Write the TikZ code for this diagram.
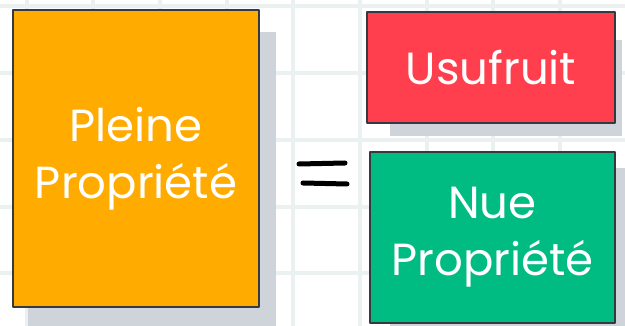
\documentclass[tikz,border=0pt]{standalone}
\usepackage{fontspec}
\setmainfont{Poppins}
\definecolor{gridc}{HTML}{EBF0F0}
\definecolor{shadowc}{HTML}{CED4DA}
\definecolor{edgec}{HTML}{343A40}
\definecolor{orangec}{HTML}{FFAB00}
\definecolor{redc}{HTML}{FF3F4D}
\definecolor{greenc}{HTML}{00BB82}
\tikzset{
  card/.style={draw=edgec, line width=2.2pt, line join=round, inner sep=0pt, text=white,
    font=\fontsize{45}{57}\selectfont, align=center},
  shade/.style={fill=shadowc, draw=none},
  eqstroke/.style={line width=5pt, line cap=round, draw=black}
}
\begin{document}
\begin{tikzpicture}[x=1pt,y=-1pt]
\useasboundingbox (0,0) rectangle (625,326);
\fill[white] (0,0) rectangle (625,326);
% grid
\foreach \gx in {26.7,93.3,160,226.7,293.3,360,426.7,493.3,560}
  \draw[gridc, line width=4pt] (\gx,0) -- (\gx,326);
\foreach \gy in {6.5,73.2,139.9,206.6,273.3}
  \draw[gridc, line width=4pt] (0,\gy) -- (625,\gy);
% shadows
\fill[shade] (28,32) rectangle (276,330);
\fill[shade] (390,40) rectangle (622,136);
\fill[shade] (390,168) rectangle (626,330);
% cards
\node[card, fill=orangec, minimum width=246pt, minimum height=297pt] (pleine) at (136,158.5) {Pleine\\Propriété};
\node[card, fill=redc, minimum width=248pt, minimum height=111pt] (usu) at (491,67.5) {Usufruit};
\node[card, fill=greenc, minimum width=245pt, minimum height=171pt] (nue) at (492.5,237.5) {Nue\\Propriété};
% equals sign
\coordinate (eqa1) at (299,164);
\coordinate (eqa2) at (345,163);
\coordinate (eqb1) at (303,183);
\coordinate (eqb2) at (347,184);
\draw[eqstroke] (eqa1) -- (eqa2);
\draw[eqstroke] (eqb1) -- (eqb2);
\end{tikzpicture}
\end{document}
